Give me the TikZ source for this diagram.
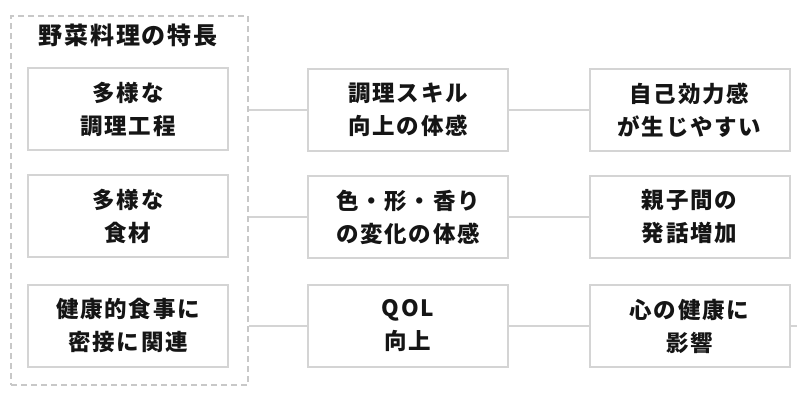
\documentclass[tikz,border=0pt]{standalone}
\usepackage{fontspec}
\newfontfamily\jp[LetterSpace=8]{Noto Sans CJK JP}
\definecolor{boxgray}{HTML}{D4D4D4}
\definecolor{dashgray}{HTML}{C8C8C8}
\definecolor{txt}{HTML}{151515}
\begin{document}
\begin{tikzpicture}[x=1pt,y=-1pt,
  card/.style={draw=boxgray,line width=2pt,fill=white,minimum width=200pt,minimum height=82pt,
    align=center,font=\jp\bfseries\fontsize{22.5}{33}\selectfont,text=txt,inner sep=0pt},
  link/.style={draw=boxgray,line width=2pt},
  grpbox/.style={draw=dashgray,line width=1.5pt,dash pattern=on 6pt off 4pt,minimum width=237pt,minimum height=369pt,inner sep=0pt}]
\useasboundingbox (0,0) rectangle (800,400);
\node[grpbox] (grp) at (129.5,200.5) {};
\node[font=\jp\bfseries\fontsize{24}{28}\selectfont,text=txt] (title) at (128,35) {野菜料理の特長};
\node[card] (l1) at (128,109) {多様な\\調理工程};
\node[card] (l2) at (128,216) {多様な\\食材};
\node[card] (l3) at (128,325.5) {健康的食事に\\密接に関連};
\node[card] (m1) at (408,110) {調理スキル\\向上の体感};
\node[card] (m2) at (408,217) {色・形・香り\\の変化の体感};
\node[card] (m3) at (408,326) {QOL\\向上};
\node[card] (r1) at (689.5,110) {自己効力感\\が生じやすい};
\node[card] (r2) at (689.5,217) {親子間の\\発話増加};
\node[card] (r3) at (689.5,326) {心の健康に\\影響};
\coordinate (stub) at (797,326);
\draw[link] (grp.east |- m1.west) -- (m1.west);
\draw[link] (grp.east |- m2.west) -- (m2.west);
\draw[link] (grp.east |- m3.west) -- (m3.west);
\draw[link] (m1.east) -- (r1.west);
\draw[link] (m2.east) -- (r2.west);
\draw[link] (m3.east) -- (r3.west);
\draw[link] (r3.east) -- (stub);
\end{tikzpicture}
\end{document}
